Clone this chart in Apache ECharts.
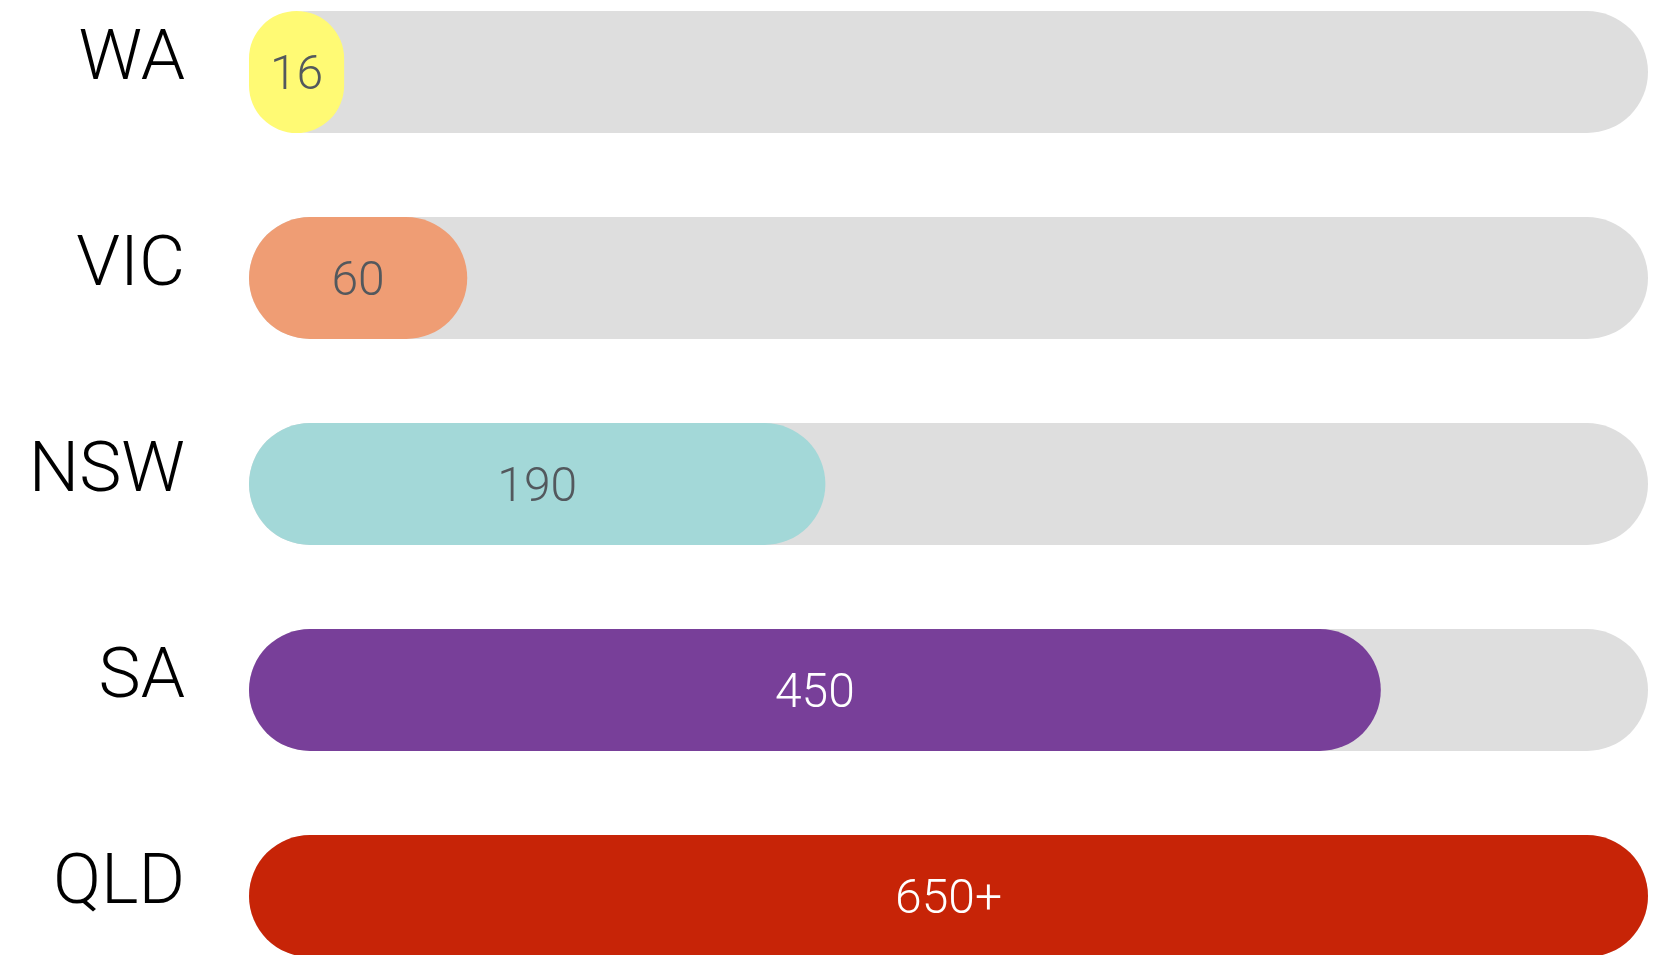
<!DOCTYPE html>
<html>
<head>
<meta charset="utf-8">
<script src="https://cdn.jsdelivr.net/npm/echarts@6/dist/echarts.min.js"></script>
<style>
  html, body { margin: 0; padding: 0; background: #ffffff; }
  #view { width: 1676px; height: 955px; }
</style>
</head>
<body>
<div id="view"></div>
<script>
// states, top to bottom
let states = ["WA", "VIC", "NSW", "SA", "QLD"];
// number printed on each bar
let valueLabels = ["16", "60", "190", "450", "650+"];
// bar length as share of the grey track (%)
let trackShare = [6.8, 15.6, 41.2, 80.9, 100];
let barColors = ["#fffa74", "#ef9d74", "#a3d8d8", "#783f99", "#c72407"];
let labelColors = ["#53585d", "#53585d", "#53585d", "#ffffff", "#ffffff"];

let myChart = echarts.init(document.getElementById("view"), null, { renderer: "canvas" });

let barData = [];
trackShare.forEach((v, i) => {
  barData.push({
    value: v,
    itemStyle: { color: barColors[i] },
    label: { color: labelColors[i] },
  });
});

let font = '"Helvetica Neue", Roboto, "Liberation Sans", sans-serif';

let option = {
  backgroundColor: "#ffffff",
  animation: false,
  grid: {
    left: 249,
    right: 28,
    top: -31,
    height: 1030,
    outerBoundsMode: "none",
  },
  xAxis: {
    type: "value",
    min: 0,
    max: 100,
    show: false,
  },
  yAxis: {
    type: "category",
    inverse: true,
    data: states,
    axisLine: { show: false },
    axisTick: { show: false },
    axisLabel: {
      margin: 64,
      fontSize: 71,
      fontWeight: 300,
      fontFamily: font,
      color: "#000000",
      verticalAlign: "bottom",
      lineHeight: 22,
    },
  },
  series: [
    {
      type: "bar",
      barWidth: 122,
      data: barData,
      showBackground: true,
      backgroundStyle: {
        color: "#dedede",
        borderRadius: 61,
      },
      itemStyle: { borderRadius: 61 },
      label: {
        show: true,
        position: "inside",
        offset: [0, 5],
        fontSize: 48,
        fontWeight: 300,
        fontFamily: font,
        formatter: (p) => valueLabels[p.dataIndex],
      },
    },
  ],
};
myChart.setOption(option);
</script>
</body>
</html>
